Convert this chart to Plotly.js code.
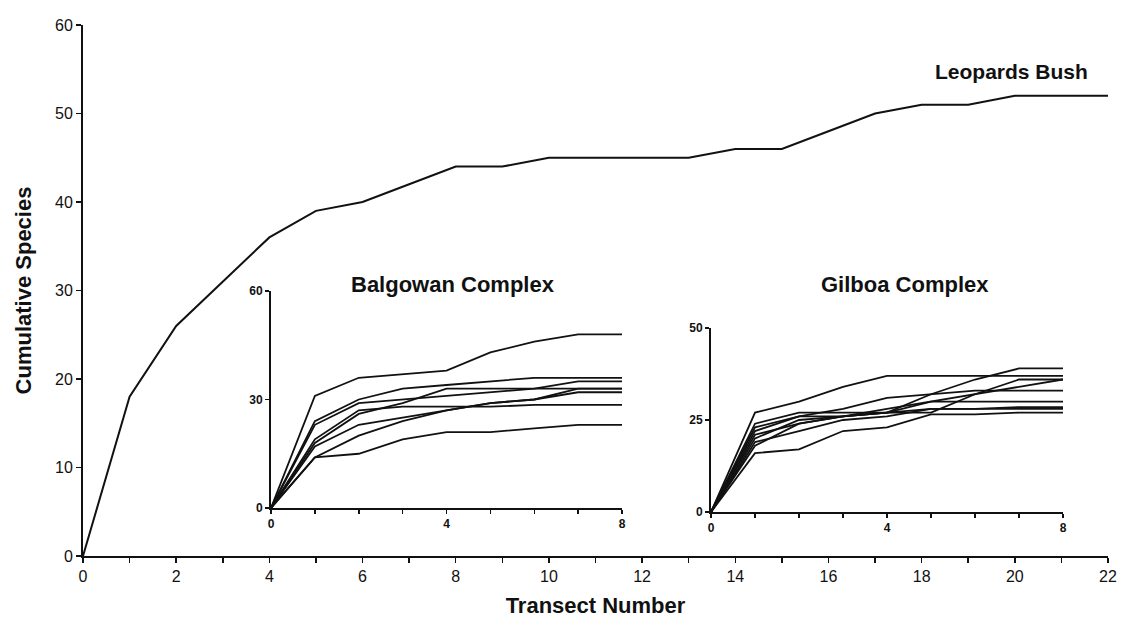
<!DOCTYPE html>
<html>
<head>
<meta charset="utf-8">
<script src="https://cdn.plot.ly/plotly-3.0.1.min.js"></script>
<style>html,body{margin:0;padding:0;background:#fff;}#chart{width:1124px;height:628px;}</style>
</head>
<body>
<div id="chart"></div>
<script>
// ---- Data ----
const transect = [0,1,2,3,4,5,6,7,8,9,10,11,12,13,14,15,16,17,18,19,20,21,22];
const leopardsBush = [0,18,26,31,36,39,40,42,44,44,45,45,45,45,46,46,48,50,51,51,52,52,52];

const insetTransect = [0,1,2,3,4,5,6,7,8];
const balgowan1 = [0,31,36,37,38,43,46,48,48];
const balgowan2 = [0,24,30,33,34,35,36,36,36];
const balgowan3 = [0,23,29,30,31,32,33,35,35];
const balgowan4 = [0,18,26,29,33,33,33,33,33];
const balgowan5 = [0,14,20,24,27,29,30,32,32];
const balgowan6 = [0,17,23,25,27,29,30,33,33];
const balgowan7 = [0,19,27,28,28,28,28.5,28.5,28.5];
const balgowan8 = [0,14,15,19,21,21,22,23,23];

const gilboa1 = [0,27,30,34,37,37,37,37,37];
const gilboa2 = [0,24,27,27,27,32,36,39,39];
const gilboa3 = [0,23,26,28,31,32,33,33,33];
const gilboa4 = [0,22,26,26,27,27,32,36,36];
const gilboa5 = [0,21,24,26,27,30,30,30,30];
const gilboa6 = [0,19,22,25,26,28,28,28.5,28.5];
const gilboa7 = [0,18,24,26,27,28,28,28,28];
const gilboa8 = [0,16,17,22,23,26.5,26.5,27,27];
const gilboa9 = [0,20,25,26,28,30,32,34,36];

const mainXTickVals = transect;
const mainXTickText = transect.map(v => v % 2 === 0 ? String(v) : '');
const insetXTickText = insetTransect.map(v => v % 4 === 0 ? String(v) : '');

const balgowanSeries = [balgowan1,balgowan2,balgowan3,balgowan4,balgowan5,balgowan6,balgowan7,balgowan8];
const gilboaSeries = [gilboa1,gilboa2,gilboa3,gilboa4,gilboa5,gilboa6,gilboa7,gilboa8,gilboa9];

// ---- Traces ----
const FONT = '"Liberation Sans", Arial, sans-serif';
const traces = [];
traces.push({x: transect, y: leopardsBush, xaxis:'x', yaxis:'y', mode:'lines',
  line:{color:'#111', width:2}, hoverinfo:'skip', showlegend:false});
balgowanSeries.forEach(s => traces.push({x: insetTransect, y: s, xaxis:'x2', yaxis:'y2', mode:'lines',
  line:{color:'#111', width:1.8}, cliponaxis:false, hoverinfo:'skip', showlegend:false}));
gilboaSeries.forEach(s => traces.push({x: insetTransect, y: s, xaxis:'x3', yaxis:'y3', mode:'lines',
  line:{color:'#111', width:1.8}, cliponaxis:false, hoverinfo:'skip', showlegend:false}));

const axisCommon = {showgrid:false, zeroline:false, showline:true, linecolor:'#111', linewidth:2,
  ticks:'outside', tickcolor:'#111', tickwidth:1.5, fixedrange:true};
const insetAxis = Object.assign({}, axisCommon, {ticklen:4, tickfont:{family:FONT, size:12, color:'#111', weight:'bold'}});

const layout = {
  width:1124, height:628,
  margin:{l:83, r:16, t:25, b:72, pad:0},
  paper_bgcolor:'#fff', plot_bgcolor:'rgba(0,0,0,0)',
  font:{family:FONT, color:'#111'},
  showlegend:false,
  xaxis: Object.assign({}, axisCommon, {domain:[0,1], range:[0,22], anchor:'y', ticklen:5,
    tickvals: mainXTickVals, ticktext: mainXTickText, tickfont:{family:FONT, size:16, color:'#111'},
    title:{text:'Transect Number', font:{family:FONT, size:22, color:'#111', weight:'bold'}, standoff:13}}),
  yaxis: Object.assign({}, axisCommon, {domain:[0,1], range:[0,60], anchor:'x', ticklen:5, dtick:10, tick0:0,
    tickfont:{family:FONT, size:16, color:'#111'},
    title:{text:'Cumulative Species', font:{family:FONT, size:22, color:'#111', weight:'bold'}, standoff:17}}),
  xaxis2: Object.assign({}, insetAxis, {domain:[0.1834,0.5259], range:[0,8], anchor:'y2',
    tickvals: insetTransect, ticktext: insetXTickText}),
  yaxis2: Object.assign({}, insetAxis, {domain:[0.0904,0.4991], range:[0,60], anchor:'x2',
    tickvals:[0,30,60]}),
  xaxis3: Object.assign({}, insetAxis, {domain:[0.6127,0.9561], range:[0,8], anchor:'y3',
    tickvals: insetTransect, ticktext: insetXTickText}),
  yaxis3: Object.assign({}, insetAxis, {domain:[0.0829,0.4294], range:[0,50], anchor:'x3',
    tickvals:[0,25,50]}),
  annotations:[
    {text:'Leopards Bush', xref:'paper', yref:'paper', x:0.906, y:0.9115, xanchor:'center', yanchor:'middle',
      showarrow:false, font:{family:FONT, size:21, color:'#111', weight:'bold'}},
    {text:'Balgowan Complex', xref:'paper', yref:'paper', x:0.361, y:0.5104, xanchor:'center', yanchor:'middle',
      showarrow:false, font:{family:FONT, size:22, color:'#111', weight:'bold'}},
    {text:'Gilboa Complex', xref:'paper', yref:'paper', x:0.802, y:0.5104, xanchor:'center', yanchor:'middle',
      showarrow:false, font:{family:FONT, size:22, color:'#111', weight:'bold'}}
  ]
};

Plotly.newPlot('chart', traces, layout, {displayModeBar:false, staticPlot:true});
</script>
</body>
</html>
